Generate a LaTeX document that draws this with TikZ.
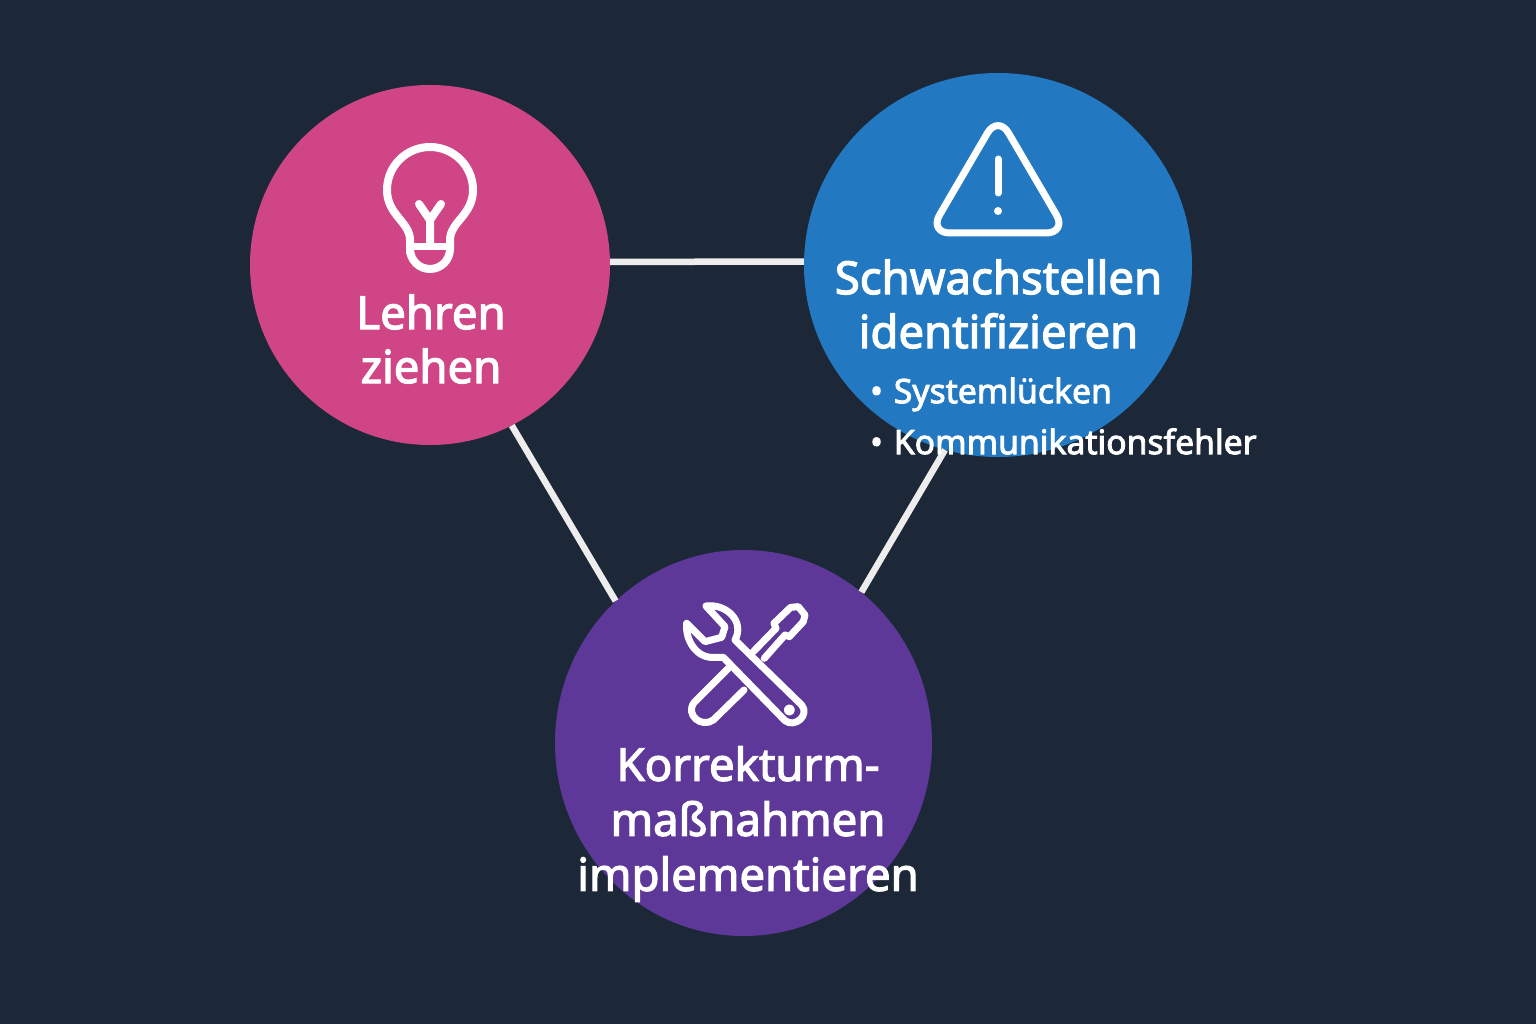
\documentclass[tikz,border=0pt]{standalone}
\usepackage{fontspec}
\usetikzlibrary{shapes.geometric}
\setmainfont{Noto Sans}[RawFeature={embolden=2.6}]
\definecolor{bgc}{HTML}{1C2838}
\definecolor{pinkc}{HTML}{D04585}
\definecolor{bluec}{HTML}{2279C2}
\definecolor{purplec}{HTML}{5E3899}
\definecolor{linkc}{HTML}{EDEDED}
\tikzset{
  disc/.style={ellipse,inner sep=0pt,draw=none},
  link/.style={linkc,line width=6.5pt},
  icon/.style={white,line width=#1,line cap=round,line join=round},
  heading/.style={text=white,align=center,inner sep=0pt,font=\fontsize{45.5}{54}\selectfont},
  tallheading/.style={heading,font=\fontsize{45.5}{55}\selectfont},
  bullets/.style={text=white,align=left,anchor=west,inner sep=0pt,font=\fontsize{33.7}{51}\selectfont},
}
\begin{document}
\begin{tikzpicture}[x=1pt,y=-1pt]
\useasboundingbox[fill=bgc] (0,0) rectangle (1536,1024);
\node[disc,fill=pinkc,minimum width=360pt,minimum height=360pt] (pink) at (430,265) {};
\node[disc,fill=bluec,minimum width=388pt,minimum height=384pt] (blue) at (998,265) {};
\node[disc,fill=purplec,minimum width=377pt,minimum height=386pt] (purple) at (743.5,743) {};
\draw[link] (pink.1) -- (blue.179);
\draw[link] (pink.-63) -- (purple.132);
\draw[link] (blue.-106) -- (purple.52.6);
% bulb
\draw[icon=8pt] (410,253) -- (410,240) .. controls (410,222) and (387,215) .. (387,190)
  .. controls (387,166.2) and (406.2,147) .. (430,147)
  .. controls (453.8,147) and (473,166.2) .. (473,190)
  .. controls (473,215) and (450,222) .. (450,240) -- (450,249)
  .. controls (450,260) and (441,269) .. (430,269)
  .. controls (419,269) and (410,260) .. (410,249);
\draw[icon=7pt] (410,247) -- (450,247);
\draw[icon=8pt] (419,204) -- (430,220) -- (441,204) (430,220) -- (430,245);
% triangle
\draw[icon=7pt,rounded corners=21pt] (998,115) -- (1067,233) -- (929,233) -- cycle;
\draw[icon=7pt] (998,159) -- (998,193);
\fill[white] (998,211) circle[radius=4pt];
% tools
\begin{scope}[shift={(670,590)},x=0.3333pt,y=-0.3333pt]
\draw[icon=7pt] (108,48) .. controls (170,40) and (225,95) .. (195,150)
  -- (395,345) .. controls (420,375) and (375,415) .. (345,392)
  -- (160,202) -- (130,202) .. controls (80,205) and (45,150) .. (50,100)
  -- (105,155) -- (155,142) -- (165,110) -- cycle;
\draw[icon=7pt] (250,185) -- (318,115) -- (312,100) -- (362,52) -- (385,50)
  -- (405,75) -- (400,95) -- (358,140) -- (345,135) -- (283,205);
\draw[icon=7pt] (175,235) -- (72,338) .. controls (45,375) and (95,415) .. (130,390) -- (222,300);
\draw[icon=5pt] (358,360) circle[radius=9];
\end{scope}
% labels
\node[heading] (lehren) at (431,339) {Lehren\\ziehen};
\node[heading] (schwach) at (998.5,304) {Schwachstellen\\identifizieren};
\node[tallheading] (korr) at (748,824) {Korrekturm-\\maßnahmen\\implementieren};
\node[bullets] (list) at (870,416) {•\hspace{11pt}Systemlücken\\•\hspace{11pt}Kommunikationsfehler};
\end{tikzpicture}
\end{document}
